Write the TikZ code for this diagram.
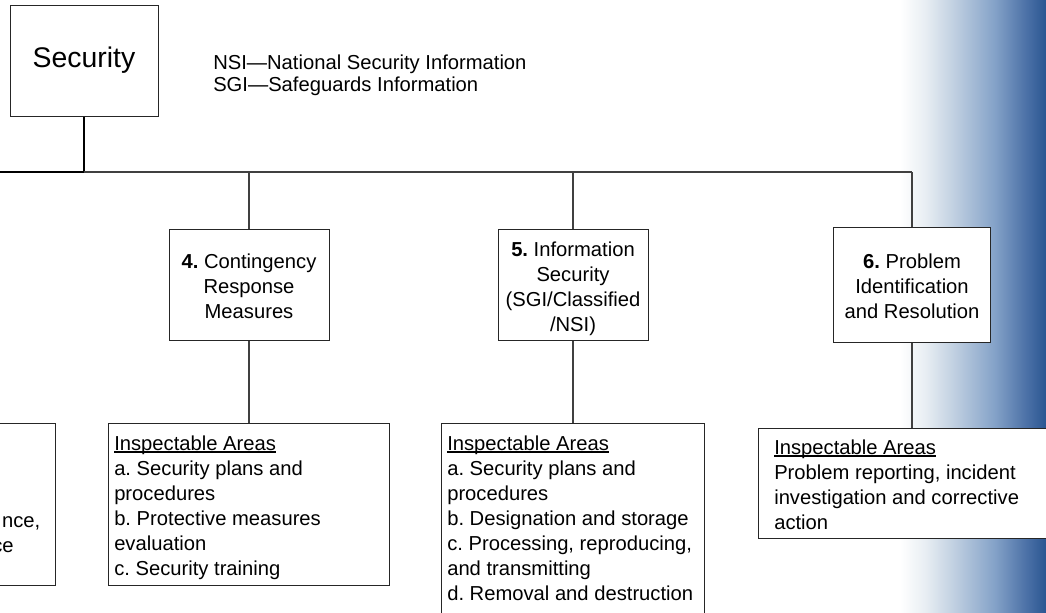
\documentclass[tikz,border=0pt]{standalone}
\usepackage{fontspec}
\setmainfont{Liberation Sans}
\frenchspacing
\definecolor{gA}{RGB}{232,238,243}
\definecolor{gB}{RGB}{190,206,224}
\definecolor{gC}{RGB}{132,162,200}
\definecolor{gD}{RGB}{78,115,168}
\definecolor{gE}{RGB}{42,86,146}
\pgfdeclarehorizontalshading{bluefade}{100bp}{color(0bp)=(white); color(25bp)=(white); color(26.7bp)=(white); color(35bp)=(gA); color(45bp)=(gB); color(58bp)=(gC); color(68bp)=(gD); color(75bp)=(gE); color(100bp)=(gE)}
\newcommand\myul[1]{\setbox0\hbox{#1}\rlap{\rule[-1.8pt]{\wd0}{0.9pt}}\box0}
\newcommand\bodyfont{\fontsize{15.15}{18.75}\selectfont\frenchspacing}
\begin{document}
\begin{tikzpicture}[x=0.75pt,y=-0.75pt,
  box/.style={draw=black!85, fill=white, inner sep=0, line width=0.75pt},
  lbl/.style={font=\bodyfont, align=center, inner sep=0},
  area/.style={font=\bodyfont, align=left, anchor=north west, inner sep=0},
  conn/.style={draw=black!75, line width=0.8pt},
  heavyconn/.style={draw=black, line width=1.5pt}]
\useasboundingbox (0,0) rectangle (1046,612);
\clip (0,0) rectangle (1046,612);
\shade[shading=bluefade] (895,0) rectangle (1046,612);

% top box
\node[box, minimum width=148*0.75pt, minimum height=111*0.75pt] (sec) at (84,60.5)
  {\fontsize{21.3}{25}\selectfont Security};
\node[area, align=left, font=\fontsize{15.15}{15}\selectfont] (legend) at (213,54.5)
  {\strut NSI—National Security Information\\SGI—Safeguards Information};

% second-level boxes
\node[box, minimum width=160*0.75pt, minimum height=111*0.75pt] (b4) at (249,284.5) {};
\node[lbl] (t4) at (249,286.5) {\textbf{4.} Contingency\\Response\\Measures};
\node[box, minimum width=150*0.75pt, minimum height=111*0.75pt] (b5) at (573,284.5) {};
\node[lbl] (t5) at (573,288.5) {\textbf{5.} Information\\Security\\(SGI/Classified\\/NSI)};
\node[box, minimum width=157*0.75pt, minimum height=115*0.75pt] (b6) at (912,284.5) {};
\node[lbl] (t6) at (912,286) {\textbf{6.} Problem\\Identification\\and Resolution};

% inspectable areas
\node[box, minimum width=155*0.75pt, minimum height=162*0.75pt] (iL) at (-22.5,504) {};
\node[font=\bodyfont, anchor=base east, inner sep=0] (tLa) at (40.5,527) {nce,};
\node[font=\bodyfont, anchor=base east, inner sep=0] (tLb) at (14,552) {ce};

\node[box, minimum width=281*0.75pt, minimum height=162*0.75pt] (i4) at (248.5,504) {};
\node[area] (a4) at (114,432.5) {\strut\myul{Inspectable Areas}\\a. Security plans and\\procedures\\b. Protective measures\\evaluation\\c. Security training};

\node[box, minimum width=263*0.75pt, minimum height=200*0.75pt] (i5) at (572.5,523) {};
\node[area] (a5) at (447,432.5) {\strut\myul{Inspectable Areas}\\a. Security plans and\\procedures\\b. Designation and storage\\c. Processing, reproducing,\\and transmitting\\d. Removal and destruction};

\node[box, minimum width=302*0.75pt, minimum height=110*0.75pt] (i6) at (909,483) {};
\node[area] (a6) at (774,436.5) {\strut\myul{Inspectable Areas}\\Problem reporting, incident\\investigation and corrective\\action};

% connectors
\coordinate (bus) at (84,172);
\coordinate (busL) at (0,172);
\coordinate (busR) at (912,172);
\draw[heavyconn] (sec.south) -- (bus);
\draw[heavyconn] (busL) -- (bus);
\draw[conn] (bus) -- (busR);
\draw[conn] (bus -| b4.north) -- (b4.north);
\draw[conn] (bus -| b5.north) -- (b5.north);
\draw[conn] (busR) -- (b6.north);
\draw[conn] (b4.south) -- (b4.south |- i4.north);
\draw[conn] (b5.south) -- (b5.south |- i5.north);
\draw[conn] (b6.south) -- (b6.south |- i6.north);
\end{tikzpicture}
\end{document}
